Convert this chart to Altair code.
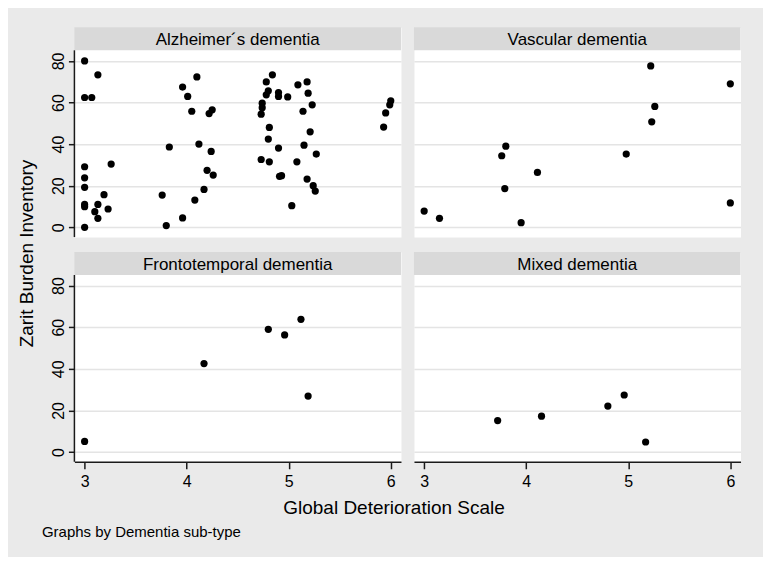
import altair as alt
import pandas as pd

# ---- data (Global Deterioration Scale vs Zarit Burden Inventory)
subtypes = ["Alzheimer´s dementia", "Vascular dementia", "Frontotemporal dementia", "Mixed dementia"]

alz_gds = [3.00, 3.13, 3.00, 3.07, 3.00, 3.00, 3.00, 3.00, 3.00, 3.13, 3.10, 3.13, 3.19, 3.23, 3.26, 3.00,
           3.76, 3.80, 3.83, 3.96, 3.96, 4.01, 4.05, 4.08, 4.10, 4.12, 4.17, 4.20, 4.22, 4.25, 4.24, 4.26,
           4.73, 4.74, 4.74, 4.73, 4.78, 4.78, 4.80, 4.81, 4.80, 4.81, 4.84, 4.90, 4.90, 4.90, 4.91, 4.93,
           4.99, 5.03, 5.08, 5.09, 5.14, 5.15, 5.18, 5.19, 5.18, 5.21, 5.23, 5.24, 5.26, 5.27,
           5.93, 5.95, 5.99, 6.00]
alz_zbi = [80, 73.3, 62.4, 62.4, 29.1, 23.8, 19.2, 11.0, 9.9, 11.0, 7.5, 4.3, 15.7, 8.8, 30.4, 0,
           15.5, 0.8, 38.6, 4.5, 67.4, 62.9, 55.8, 13.1, 72.3, 40.0, 18.2, 27.4, 54.7, 56.5, 36.5, 25.1,
           54.4, 57.5, 59.7, 32.6, 69.9, 63.7, 65.6, 48.0, 42.4, 31.5, 73.3, 64.8, 62.9, 38.1, 24.5, 24.8,
           62.7, 10.4, 31.5, 68.5, 55.8, 39.5, 69.9, 64.5, 23.2, 45.9, 58.9, 20.0, 17.4, 35.2,
           48.2, 55.0, 58.9, 60.8]

vas_gds = [3.00, 3.15, 3.76, 3.80, 3.79, 3.95, 4.11, 4.98, 5.22, 5.26, 5.23, 6.00, 6.00]
vas_zbi = [7.8, 4.3, 34.4, 39.0, 18.6, 2.2, 26.4, 35.2, 77.6, 58.1, 50.7, 69.0, 11.7]

fro_gds = [3.00, 4.17, 4.80, 4.96, 5.12, 5.19]
fro_zbi = [5.1, 42.5, 59.0, 56.3, 63.8, 26.9]

mix_gds = [3.72, 4.15, 4.80, 4.96, 5.17]
mix_zbi = [15.1, 17.2, 22.1, 27.4, 4.8]

series = [(alz_gds, alz_zbi), (vas_gds, vas_zbi), (fro_gds, fro_zbi), (mix_gds, mix_zbi)]

x_ticks = [3, 4, 5, 6]
y_ticks = [0, 20, 40, 60, 80]

# ---- styling
FONT = "Liberation Sans"
BG = "#eaeaea"
STRIP = "#d9d9d9"
GRID = "#e4e4e4"
AXC = "#1a1a1a"
W = 327
PH = 187          # plot region height
SH = 23           # strip height
Y0, Y1 = -4.7, 85.1
Y1_EXT = Y1 + (Y1 - Y0) * SH / PH   # extend the scale so the strip sits above the plot region

xscale = alt.Scale(domain=[2.9, 6.1], nice=False, zero=False)
yscale = alt.Scale(domain=[Y0, Y1_EXT], nice=False, zero=False)


def panel(i):
    gds, zbi = series[i]
    df = pd.DataFrame({"gds": gds, "zbi": zbi})
    left = i in (0, 2)
    bottom = i in (2, 3)

    ycommon = dict(values=y_ticks, grid=True, gridColor=GRID, gridWidth=1.5, domain=False)
    if left:
        ycommon.update(ticks=True, tickColor=AXC, tickWidth=1.5, tickSize=6,
                       labelAngle=270, labelAlign="center", labelBaseline="alphabetic",
                       labelPadding=5, labelFont=FONT, labelFontSize=16, labelColor="black")
    else:
        ycommon.update(ticks=False, labels=False)
    if i == 2:
        yaxis = alt.Axis(title="Zarit Burden Inventory", titleFont=FONT, titleFontSize=19,
                         titleFontWeight="normal", titleColor="black",
                         titleAngle=270, titleAlign="center", titleBaseline="middle",
                         titleX=-47.5, titleY=-22 + SH, **ycommon)
    else:
        yaxis = alt.Axis(title="", **ycommon)

    if bottom:
        common = dict(values=x_ticks, grid=False, domain=True, domainColor=AXC, domainWidth=1.5,
                      ticks=True, tickColor=AXC, tickWidth=1.5, tickSize=7,
                      labelFont=FONT, labelFontSize=16, labelColor="black", labelPadding=5,
                      titleFont=FONT, titleFontWeight="normal", titleColor="black",
                      titleBaseline="middle")
        if i == 2:
            xaxis = alt.Axis(title="Global Deterioration Scale", titleFontSize=19,
                             titleAlign="center", titleX=319.5, titleY=46, **common)
        else:
            xaxis = alt.Axis(title="Graphs by Dementia sub-type", titleFontSize=15,
                             titleAlign="left", titleX=-373, titleY=70, **common)
        x = alt.X("gds:Q", scale=xscale, axis=xaxis)
    else:
        x = alt.X("gds:Q", scale=xscale, axis=None)

    pts = alt.Chart(df).mark_circle(size=52, color="black", opacity=1).encode(
        x=x, y=alt.Y("zbi:Q", scale=yscale, axis=yaxis))

    lab = pd.DataFrame({"label": [subtypes[i]]})
    sbase = alt.Chart(lab)
    srect = sbase.mark_rect(color=STRIP).encode(
        x=alt.value(0), x2=alt.value(W), y=alt.value(0), y2=alt.value(SH))
    stext = sbase.mark_text(font=FONT, fontSize=17, color="black", baseline="middle",
                            align="center").encode(
        text="label:N", x=alt.value(W / 2), y=alt.value(SH / 2 + 1))

    layers = [pts, srect, stext]
    if left:
        yline = sbase.mark_rule(color=AXC, strokeWidth=1.5).encode(
            x=alt.value(0), y=alt.value(SH), y2=alt.value(SH + PH))
        layers.append(yline)
    return alt.layer(*layers).properties(width=W, height=SH + PH)


chart = alt.concat(*[panel(i) for i in range(4)], columns=2,
                   spacing={"row": 15, "column": 13}, bounds="flush").properties(
    background=BG,
    padding={"left": 8.5, "top": 18, "right": 21.5, "bottom": 16},
).configure_view(fill="white", stroke="transparent")

chart.save("out.html", embed_options={"renderer": "svg", "actions": False})
